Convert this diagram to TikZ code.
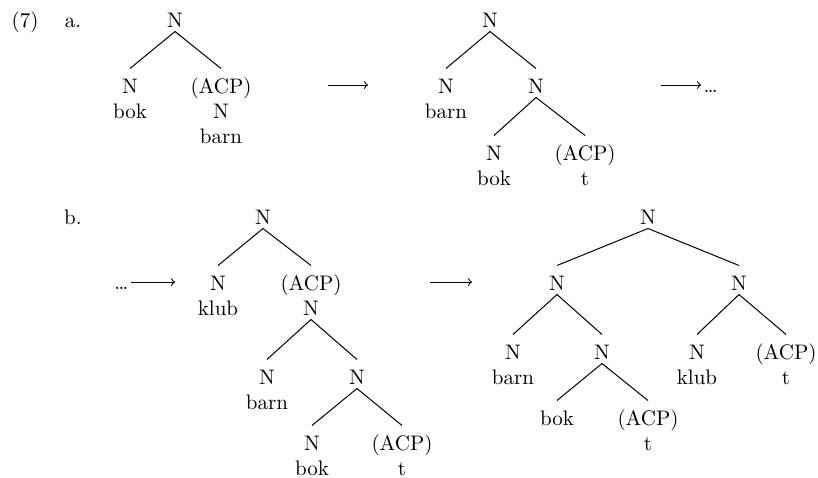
\documentclass[tikz,border=0pt]{standalone}
\usetikzlibrary{positioning}

\begin{document}
\begin{tikzpicture}[x=0.5pt, y=-0.5pt, line width=0.5pt, node distance=12.5pt, on grid,
	lab/.style = {inner sep=1pt, text height=11pt, text depth=1pt, anchor=base, font=\fontsize{10.5}{12.5}\selectfont},
	arr/.style = {->, >=to}]
	\useasboundingbox (0,0) rectangle (818,477);
	\node[lab] (ex) at (25,27) {(7)};
	\node[lab] (exa) at (73,27) {a.};
	\node[lab] (exb) at (73,224) {b.};
	% (7a) first tree
	\node[lab] (a1) at (175,27) {N};
	\node[lab] (a1l) at (130,93) {N};
	\node[lab] (a1lw) [below=of a1l] {bok};
	\node[lab] (a1r) at (221,93) {(ACP)};
	\node[lab] (a1rn) [below=of a1r] {N};
	\node[lab] (a1rw) [below=of a1rn] {barn};
	\draw (a1.south) -- (a1l.north);
	\draw (a1.south) -- (a1r.north);
	\coordinate (ar1s) at (328,85);
	\coordinate (ar1e) at (368,85);
	\draw[arr] (ar1s) -- (ar1e);
	% (7a) second tree
	\node[lab] (a2) at (490,27) {N};
	\node[lab] (a2l) at (446,93) {N};
	\node[lab] (a2lw) [below=of a2l] {barn};
	\node[lab] (a2r) at (536,93) {N};
	\node[lab] (a2rl) at (494,160) {N};
	\node[lab] (a2rlw) [below=of a2rl] {bok};
	\node[lab] (a2rr) at (585,160) {(ACP)};
	\node[lab] (a2rrw) [below=of a2rr] {t};
	\draw (a2.south) -- (a2l.north);
	\draw (a2.south) -- (a2r.north);
	\draw (a2r.south) -- (a2rl.north);
	\draw (a2r.south) -- (a2rr.north);
	\coordinate (ar2s) at (661,85);
	\node[lab, anchor=base west] (dots1) at (701,92) {\dots};
	\draw[arr] (ar2s) -- (ar2s -| dots1.west);
	% (7b) first tree
	\node[lab, anchor=base east] (dots2) at (131,289) {\dots};
	\coordinate (ar3e) at (175,282);
	\draw[arr] (dots2.east |- ar3e) -- (ar3e);
	\node[lab] (b1) at (263,224) {N};
	\node[lab] (b1l) at (218,290) {N};
	\node[lab] (b1lw) [below=of b1l] {klub};
	\node[lab] (b1r) at (311,290) {(ACP)};
	\node[lab] (b1rn) [below=of b1r] {N};
	\node[lab] (b1rl) at (267,384) {N};
	\node[lab] (b1rlw) [below=of b1rl] {barn};
	\node[lab] (b1rr) at (357,384) {N};
	\node[lab] (b1rrl) at (312,450) {N};
	\node[lab] (b1rrlw) [below=of b1rrl] {bok};
	\node[lab] (b1rrr) at (402,450) {(ACP)};
	\node[lab] (b1rrrw) [below=of b1rrr] {t};
	\draw (b1.south) -- (b1l.north);
	\draw (b1.south) -- (b1r.north);
	\draw (b1rn.south) -- (b1rl.north);
	\draw (b1rn.south) -- (b1rr.north);
	\draw (b1rr.south) -- (b1rrl.north);
	\draw (b1rr.south) -- (b1rrr.north);
	\coordinate (ar4s) at (430,282);
	\coordinate (ar4e) at (472,282);
	\draw[arr] (ar4s) -- (ar4e);
	% (7b) second tree
	\node[lab] (b2) at (648,224) {N};
	\node[lab] (b2l) at (557,290) {N};
	\node[lab] (b2r) at (739,290) {N};
	\node[lab] (b2ll) at (513,359) {N};
	\node[lab] (b2llw) [below=of b2ll] {barn};
	\node[lab] (b2lr) at (602,359) {N};
	\node[lab] (b2lrl) at (557,425) {bok};
	\node[lab] (b2lrr) at (648,425) {(ACP)};
	\node[lab] (b2lrrw) [below=of b2lrr] {t};
	\node[lab] (b2rl) at (697,359) {N};
	\node[lab] (b2rlw) [below=of b2rl] {klub};
	\node[lab] (b2rr) at (786,359) {(ACP)};
	\node[lab] (b2rrw) [below=of b2rr] {t};
	\draw (b2.south) -- (b2l.north);
	\draw (b2.south) -- (b2r.north);
	\draw (b2l.south) -- (b2ll.north);
	\draw (b2l.south) -- (b2lr.north);
	\draw (b2lr.south) -- (b2lrl.north);
	\draw (b2lr.south) -- (b2lrr.north);
	\draw (b2r.south) -- (b2rl.north);
	\draw (b2r.south) -- (b2rr.north);
\end{tikzpicture}
\end{document}
